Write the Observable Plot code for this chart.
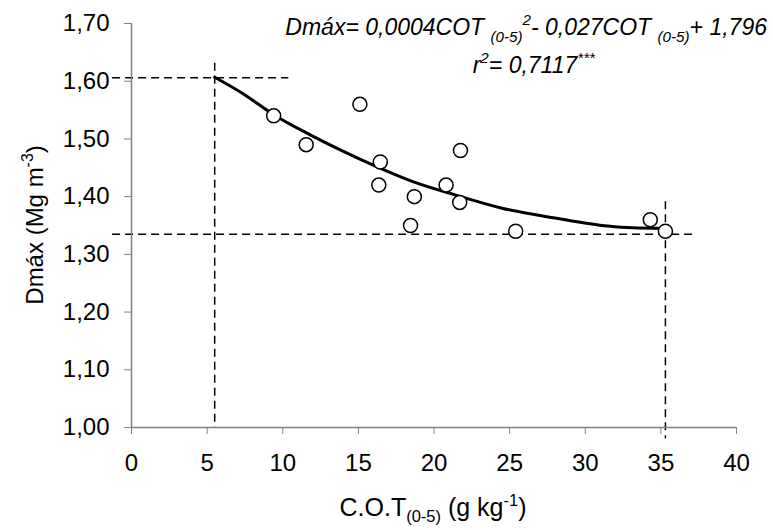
<!DOCTYPE html>
<html>
<head>
<meta charset="utf-8">
<script src="https://cdn.jsdelivr.net/npm/d3@7"></script>
<script src="https://cdn.jsdelivr.net/npm/@observablehq/plot@0.6"></script>
<style>
  html, body { margin: 0; padding: 0; background: white; }
  #chart svg { display: block; }
</style>
</head>
<body>
<div id="chart"></div>
<script>
// ---- data ----
const obsCOT  = [9.4, 11.55, 15.1, 16.45, 16.35, 18.7, 18.45, 20.8, 21.7, 21.75, 25.4, 34.3, 35.3];
const obsDmax = [1.54, 1.49, 1.56, 1.46, 1.42, 1.40, 1.35, 1.42, 1.39, 1.48, 1.34, 1.36, 1.34];

const fitCOT  = [5.5, 7.4, 9.4, 11.6, 13.8, 16.2, 18.6, 21.4, 24.5, 28.0, 31.5, 33.1, 35.3];
const fitDmax = [1.607, 1.578, 1.542, 1.510, 1.481, 1.452, 1.426, 1.403, 1.380, 1.363, 1.349, 1.346, 1.345];

// dashed guide lines
const hGuideY  = [1.606, 1.335];
const hGuideX1 = [-1.25, -1.25];
const hGuideX2 = [10.4, 37.3];
const vGuideX  = [5.5, 35.3];
const vGuideY1 = [1.631, 1.391];
const vGuideY2 = [1.0, 0.98];

const xTicks = [0, 5, 10, 15, 20, 25, 30, 35, 40];
const yTicks = [1.0, 1.1, 1.2, 1.3, 1.4, 1.5, 1.6, 1.7];

// ---- tables ----
const points = obsCOT.map((x, i) => ({x, y: obsDmax[i]}));
const fit = fitCOT.map((x, i) => ({x, y: fitDmax[i]}));
const hGuides = hGuideY.map((y, i) => ({y, x1: hGuideX1[i], x2: hGuideX2[i]}));
const vGuides = vGuideX.map((x, i) => ({x, y1: vGuideY1[i], y2: vGuideY2[i]}));

const FONT = "'Liberation Sans', Arial, Helvetica, sans-serif";
const FS = 24;      // tick labels
const FT = 25;      // axis titles
const FE = 23;      // equation
const AXIS = "#808080";
const comma = d => d3.format(".2f")(d).replace(".", ",");

const xMin = xTicks[0], xMax = xTicks[xTicks.length - 1];
const yMin = yTicks[0], yMax = yTicks[yTicks.length - 1];

const plot = Plot.plot({
  width: 773,
  height: 530,
  marginLeft: 131,
  marginRight: 37,
  marginTop: 23,
  marginBottom: 103,
  x: {domain: [xMin, xMax]},
  y: {domain: [yMin, yMax]},
  style: {fontFamily: FONT, fontSize: FS + "px", color: "black", background: "white"},
  marks: [
    Plot.ruleY(hGuides, {y: "y", x1: "x1", x2: "x2", stroke: "black", strokeWidth: 1.5, strokeDasharray: "8,5"}),
    Plot.ruleX(vGuides, {x: "x", y1: "y1", y2: "y2", stroke: "black", strokeWidth: 1.5, strokeDasharray: "8,5"}),
    Plot.ruleX([xMin], {y1: yMin, y2: yMax, stroke: AXIS, strokeWidth: 1.5}),
    Plot.ruleY([yMin], {x1: xMin, x2: xMax, stroke: AXIS, strokeWidth: 1.5}),
    Plot.axisY(yTicks, {tickSize: 7, tickPadding: 15, tickFormat: comma, stroke: AXIS, fill: "black", fontSize: FS, label: null}),
    Plot.axisX(xTicks, {tickSize: 7, tickPadding: 19, tickFormat: d => String(d), stroke: AXIS, fill: "black", fontSize: FS, label: null}),
    Plot.line(fit, {x: "x", y: "y", curve: "monotone-x", stroke: "black", strokeWidth: 3}),
    Plot.dot(points, {x: "x", y: "y", r: 7, stroke: "black", fill: "white", strokeWidth: 1.5})
  ]
});

document.getElementById("chart").append(plot);

// ---- rich text (sub/superscripts) ----
const svg = d3.select(plot);
function rich(x, y, parts, {anchor = "start", italic = false, rotate = 0, fs = FS, sub = 0.3} = {}) {
  const t = svg.append("text")
    .attr("transform", `translate(${x},${y}) rotate(${rotate})`)
    .attr("text-anchor", anchor)
    .attr("font-family", FONT)
    .attr("font-size", fs)
    .attr("font-style", italic ? "italic" : "normal")
    .attr("fill", "black");
  let shift = 0;
  for (const p of parts) {
    const target = p.s === "sub" ? sub * fs : p.s === "sup" ? -0.42 * fs : 0;
    t.append("tspan")
      .attr("dy", target - shift)
      .attr("font-size", p.s ? fs * 0.66 : fs)
      .text(p.t);
    shift = target;
  }
  return t;
}

// y-axis title
rich(43, 225, [{t: "Dmáx (Mg m"}, {t: "-3", s: "sup"}, {t: ")"}], {anchor: "middle", rotate: -90, fs: FT - 1});
// x-axis title
rich(433, 516, [{t: "C.O.T"}, {t: "(0-5)", s: "sub"}, {t: " (g kg"}, {t: "-1", s: "sup"}, {t: ")"}], {anchor: "middle", fs: FT, sub: 0.22});
// equation
rich(767, 35, [
  {t: "Dmáx= 0,0004COT "}, {t: "(0-5)", s: "sub"}, {t: "2", s: "sup"},
  {t: "- 0,027COT "}, {t: "(0-5)", s: "sub"}, {t: "+ 1,796"}
], {anchor: "end", italic: true, fs: FE});
rich(595, 73, [{t: "r"}, {t: "2", s: "sup"}, {t: "= 0,7117"}, {t: "***", s: "sup"}], {anchor: "end", italic: true, fs: FE});
</script>
</body>
</html>
